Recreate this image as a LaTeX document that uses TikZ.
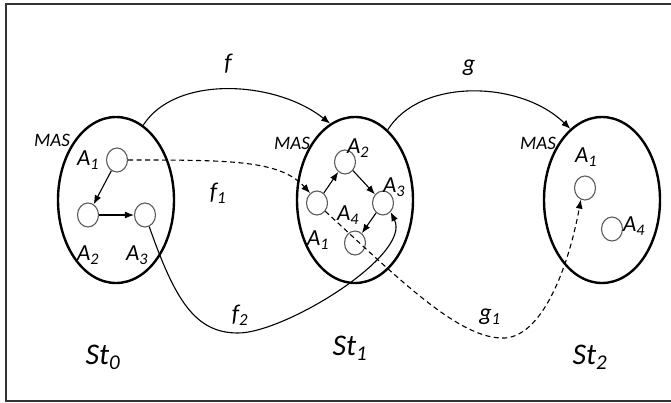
\documentclass[tikz,border=0pt]{standalone}
\usepackage{fontspec}
\setmainfont{Carlito}
\usetikzlibrary{shapes.geometric,arrows.meta}
\newcommand{\ag}[1]{\textit{A\textsubscript{#1}}}
\newcommand{\stt}[1]{\textit{St\textsubscript{#1}}}
\newcommand{\fn}[2]{\textit{#1\textsubscript{#2}}}

\begin{document}
\begin{tikzpicture}[x=1pt,y=-1pt,>={Latex[length=9pt,width=7pt]},
  state/.style={draw,ellipse,line width=2.4pt,minimum width=116pt,minimum height=166pt,inner sep=0pt},
  agent/.style={draw=black!65,ellipse,line width=1.1pt,minimum width=21pt,minimum height=24pt,inner sep=0pt},
  lab/.style={font=\fontsize{23}{26}\selectfont\itshape,inner sep=0pt},
  mas/.style={font=\fontsize{19}{22}\selectfont\itshape,inner sep=0pt},
  fun/.style={font=\fontsize{24}{28}\selectfont\itshape,inner sep=0pt},
  big/.style={font=\fontsize{30}{34}\selectfont\itshape,inner sep=0pt},
  map/.style={line width=1.1pt,->},
  dashline/.style={dash pattern=on 5pt off 3.5pt},
  inner/.style={line width=1.1pt,->}]
\useasboundingbox (0,0) rectangle (671,402);

%frame
\draw [line width=2.5pt,black!80] (671,4) -- (6,4) -- (6,401) -- (671,401);

%St_0
\node[state] (st0) at (116,200) {};
\node[mas] (mas0) at (52,140) {MAS};
\node[agent] (la1) at (117,160) {};
\node[agent] (la2) at (88,215) {};
\node[agent] (la3) at (145,215) {};
\node[lab] (la1t) at (88,160) {\ag1};
\node[lab] (la2t) at (88,255) {\ag2};
\node[lab] (la3t) at (137,255) {\ag3};
\draw [inner] (la1) -- (la2);
\draw [inner] (la2) -- (la3);
\node[big] (st0t) at (103,357) {\stt0};

%St_1
\node[state] (st1) at (355,200) {};
\node[mas] (mas1) at (292,143) {MAS};
\node[agent] (ma1) at (317,203) {};
\node[agent] (ma2) at (345,162) {};
\node[agent] (ma3) at (383,203) {};
\node[agent] (ma4) at (355,243) {};
\node[lab] (ma1t) at (318,240) {\ag1};
\node[lab] (ma2t) at (358,148) {\ag2};
\node[lab] (ma3t) at (394,187) {\ag3};
\node[lab] (ma4t) at (348,215) {\ag4};
\draw [inner] (ma1) -- (ma2);
\draw [inner] (ma2) -- (ma3);
\draw [inner] (ma3) -- (ma4);
\node[big] (st1t) at (350,348) {\stt1};

%St_2
\node[state] (st2) at (602,200) {};
\node[mas] (mas2) at (538,143) {MAS};
\node[agent] (ra1) at (585,188) {};
\node[agent] (ra4) at (612,229) {};
\node[lab] (ra1t) at (586,157) {\ag1};
\node[lab] (ra4t) at (634,226) {\ag4};
\node[big] (st2t) at (590,357) {\stt2};

%f and g
\draw [map] (st0.70) .. controls (175,75) and (275,80) .. (st1.108);
\node[fun] (ft) at (228,64) {f};
\draw [map] (st1.65) .. controls (420,78) and (520,80) .. (st2.114);
\node[fun] (gt) at (469,68) {g};

%f_1
\draw [map,dashline] (la1.east) .. controls (230,160) and (280,160) .. (ma1.125);
\node[fun] (f1t) at (218,193) {\fn{f}{1}};

%f_2
\draw [map] (la3.-70) .. controls (175,300) and (195,333) .. (238,333)
  .. controls (285,333) and (412,255) .. (ma3.-50);
\node[fun] (f2t) at (240,315) {\fn{f}{2}};

%g_1
\draw [map,dashline] (ma1.-45) .. controls (400,280) and (460,340) .. (505,338)
  .. controls (545,335) and (570,260) .. (ra1.250);
\node[fun] (g1t) at (490,317) {\fn{g}{1}};
\end{tikzpicture}
\end{document}
